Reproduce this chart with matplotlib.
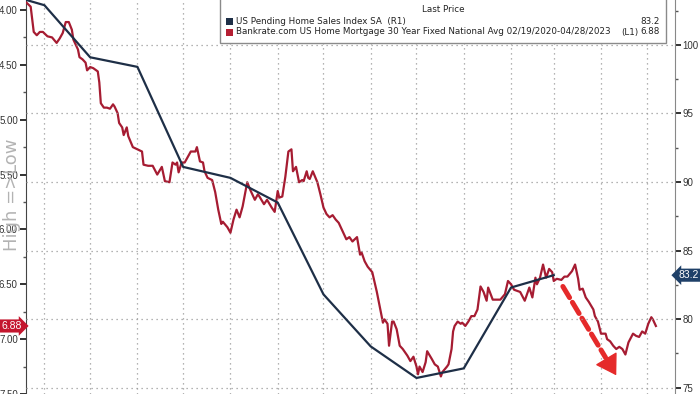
import matplotlib.pyplot as plt
from matplotlib.patches import Rectangle
import pandas as pd

# US Pending Home Sales Index SA, monthly (right axis)
phs_months = pd.date_range("2022-02-28", "2023-02-28", freq="ME")
phs_vals = [103.9, 102.9, 99.1, 98.4, 91.1, 90.3, 88.5, 81.8, 78.0, 75.7, 76.4, 82.3, 83.2]

# Bankrate 30y fixed mortgage rate (left axis), as days after 2022-03-31
rate_start = pd.Timestamp("2022-03-31")
rate_days = [-12, -9, -7, -5, -3, -1, 2, 5, 8, 9, 10, 12, 14, 16, 18, 19, 22, 23, 25, 27,
             28, 30, 32, 35, 36, 37, 39, 41, 43, 45, 46, 48, 49, 51, 52, 54, 55, 58, 61, 64,
             65, 68, 71, 74, 77, 79, 82, 84, 86, 87, 88, 90, 92, 94, 96, 99, 100, 102, 104, 105,
             107, 110, 112, 114, 116, 117, 120, 122, 124, 126, 128, 130, 133, 135, 138, 140, 141, 144, 146, 149,
             151, 153, 154, 156, 158, 160, 162, 163, 165, 167, 169, 170, 172, 173, 174, 176, 179, 181, 183, 185,
             187, 189, 191, 193, 195, 197, 198, 200, 202, 205, 207, 208, 210, 212, 215, 218, 220, 222, 223, 225,
             226, 228, 229, 231, 233, 235, 238, 240, 242, 244, 245, 246, 248, 250, 251, 254, 256, 258, 260, 261,
             264, 265, 267, 268, 269, 271, 273, 274, 276, 278, 280, 282, 284, 286, 288, 290, 291, 294, 299, 302,
             304, 306, 308, 312, 315, 318, 320, 322, 323, 325, 327, 329, 331, 333, 334, 336, 339, 341, 343, 346,
             348, 350, 351, 353, 355, 357, 360, 361, 363, 365, 366, 368, 369, 371, 373, 375, 377, 379, 381, 383,
             386, 388, 390, 392, 394, 396, 398, 399, 401]
rate_vals = [3.93, 3.97, 4.20, 4.23, 4.20, 4.20, 4.24, 4.25, 4.30, 4.28, 4.26, 4.21, 4.11, 4.11, 4.18, 4.27, 4.36, 4.43, 4.45, 4.48,
             4.55, 4.52, 4.53, 4.56, 4.66, 4.85, 4.89, 4.89, 4.90, 4.86, 4.88, 4.94, 5.03, 5.07, 5.14, 5.07, 5.15, 5.25, 5.27, 5.29,
             5.41, 5.42, 5.42, 5.50, 5.43, 5.56, 5.57, 5.39, 5.41, 5.39, 5.48, 5.39, 5.39, 5.34, 5.29, 5.29, 5.25, 5.38, 5.39, 5.47,
             5.53, 5.55, 5.66, 5.82, 5.95, 5.93, 5.98, 6.03, 5.91, 5.82, 5.89, 5.79, 5.57, 5.64, 5.73, 5.68, 5.70, 5.77, 5.73, 5.80,
             5.84, 5.65, 5.71, 5.70, 5.52, 5.29, 5.27, 5.47, 5.43, 5.57, 5.55, 5.56, 5.47, 5.53, 5.54, 5.47, 5.57, 5.68, 5.80, 5.86,
             5.89, 5.87, 5.91, 5.94, 6.00, 6.06, 6.09, 6.07, 6.11, 6.07, 6.23, 6.21, 6.29, 6.34, 6.39, 6.57, 6.71, 6.85, 6.82, 6.86,
             7.06, 6.84, 6.84, 6.91, 7.06, 7.09, 7.15, 7.20, 7.16, 7.25, 7.32, 7.25, 7.30, 7.21, 7.11, 7.18, 7.23, 7.25, 7.34, 7.30,
             7.25, 7.23, 7.09, 6.93, 6.88, 6.84, 6.86, 6.85, 6.88, 6.84, 6.79, 6.79, 6.73, 6.52, 6.57, 6.65, 6.53, 6.64, 6.64, 6.59,
             6.47, 6.50, 6.55, 6.57, 6.65, 6.53, 6.62, 6.44, 6.50, 6.44, 6.32, 6.44, 6.36, 6.39, 6.47, 6.45, 6.46, 6.43, 6.43, 6.38,
             6.32, 6.45, 6.55, 6.54, 6.62, 6.66, 6.73, 6.79, 6.84, 6.95, 6.95, 6.95, 7.00, 7.02, 7.06, 7.09, 7.07, 7.09, 7.14, 7.03,
             6.95, 6.97, 6.98, 6.93, 6.95, 6.86, 6.80, 6.82, 6.88]
rate_dates = rate_start + pd.to_timedelta(rate_days, unit="D")

phs_last = 83.2
rate_last = 6.88
grid_months = pd.date_range("2022-03-31", "2023-04-30", freq="ME")

# dashed "rates down" arrow (day offset, rate)
arrow_from = (340, 6.52)
arrow_to = (375, 7.33)

red = "#a61c32"
navy = "#1e2f47"
grid_c = "#9a9a9a"
tick_font = "Liberation Sans"

fig = plt.figure(figsize=(7, 3.94), dpi=100)
ax = fig.add_axes([25.5 / 700, 0, 649 / 700, 1])
ax2 = ax.twinx()

ax.plot(rate_dates, rate_vals, color=red, lw=1.6, zorder=3)
ax2.plot(phs_months, phs_vals, color=navy, lw=1.6, zorder=3)

ax.set_xlim(rate_start - pd.Timedelta(days=12.4), rate_start + pd.Timedelta(days=413.2))
ax.set_ylim(7.491, 3.909)  # inverted: High => Low
ax2.set_ylim(74.53, 103.28)

ax.set_xticks(grid_months)
ax.tick_params(axis="x", bottom=False, labelbottom=False)
ax.grid(axis="x", color=grid_c, ls=(0, (1, 3)), lw=0.9)
ax2.grid(axis="y", color=grid_c, ls=(0, (1, 3)), lw=0.9)

ax.set_yticks([4.0, 4.5, 5.0, 5.5, 6.0, 6.5, 7.0, 7.5])
ax.set_yticks([4.25, 4.75, 5.25, 5.75, 6.25, 6.75, 7.25], minor=True)
ax.set_yticklabels(["4.00", "4.50", "5.00", "5.50", "6.00", "6.50", "7.00", "7.50"])
ax2.set_yticks([75, 80, 85, 90, 95, 100])
ax2.set_yticks([77.5, 82.5, 87.5, 92.5, 97.5, 102.5], minor=True)

for a in (ax, ax2):
    a.tick_params(axis="y", which="major", length=4.5, width=1.3, pad=1,
                  labelsize=7, labelcolor="#333333", color="#222222")
    a.tick_params(axis="y", which="minor", length=2.5, width=1, color="#555555")
    for lab in a.get_yticklabels():
        lab.set_family(tick_font)
    for s in ("top", "bottom"):
        a.spines[s].set_visible(False)
ax.spines["left"].set_color("#444444")
ax2.spines["right"].set_color("#888888")
ax.spines["right"].set_visible(False)
ax2.spines["left"].set_visible(False)

fig.text(12 / 700, 1 - 195 / 394, "High =>Low", rotation=90, ha="center", va="center",
         fontsize=13, color="#b3b3b3", zorder=0)

# last value tags
ax.text(-0.006, rate_last, f"{rate_last:.2f}", transform=ax.get_yaxis_transform(),
        ha="right", va="center", fontsize=7.5, color="white", family=tick_font,
        bbox=dict(boxstyle="rarrow,pad=0.15", fc="#c4162e", ec="none"))
ax2.text(1.006, phs_last, f"{phs_last}", transform=ax2.get_yaxis_transform(),
         ha="left", va="center", fontsize=7.5, color="white", family=tick_font,
         bbox=dict(boxstyle="larrow,pad=0.15", fc="#1f4068", ec="none"))

# dashed arrow: dashed shaft plus a solid head
arrow_c = "#e52a2a"
a0 = rate_start + pd.Timedelta(days=arrow_from[0])
a1 = rate_start + pd.Timedelta(days=arrow_to[0])
neck = (a0 + (a1 - a0) * 0.8, arrow_from[1] + (arrow_to[1] - arrow_from[1]) * 0.8)
ax.annotate("", xy=neck, xytext=(a0, arrow_from[1]),
            arrowprops=dict(arrowstyle="-", color=arrow_c, lw=3.6, ls=(0, (2.6, 1.1)),
                            shrinkA=0, shrinkB=0))
ax.annotate("", xy=(a1, arrow_to[1]), xytext=neck,
            arrowprops=dict(arrowstyle="-|>,head_length=0.8,head_width=0.5", color=arrow_c,
                            lw=1, mutation_scale=16, shrinkA=0, shrinkB=0))

# legend box
fig.patches.append(Rectangle((220 / 700, 1 - 43 / 394), 446 / 700, 0.2, transform=fig.transFigure,
                             fc="white", ec="#8a8a8a", lw=1, zorder=5))
fig.text(443 / 700, 1 - 10 / 394, "Last Price", ha="center", va="center", fontsize=6.3, color="#222", zorder=6)
rows = [("US Pending Home Sales Index SA  (R1)", "", f"{phs_last}", navy, 21),
        ("Bankrate.com US Home Mortgage 30 Year Fixed National Avg 02/19/2020-04/28/2023", "(L1)",
         f"{rate_last:.2f}", "#b51f33", 32)]
for label, tag, val, col, ypx in rows:
    y = 1 - ypx / 394
    fig.patches.append(Rectangle((226 / 700, y - 3.5 / 394), 7 / 700, 7 / 394, transform=fig.transFigure,
                                 fc=col, ec="none", zorder=6))
    fig.text(236 / 700, y, label, ha="left", va="center", fontsize=6.3, color="#222", zorder=6)
    if tag:
        fig.text(630 / 700, y, tag, ha="center", va="center", fontsize=6.3, color="#222", zorder=6)
    fig.text(660 / 700, y, val, ha="right", va="center", fontsize=6.3, color="#222", zorder=6)

fig.savefig("out.png", dpi=100)
